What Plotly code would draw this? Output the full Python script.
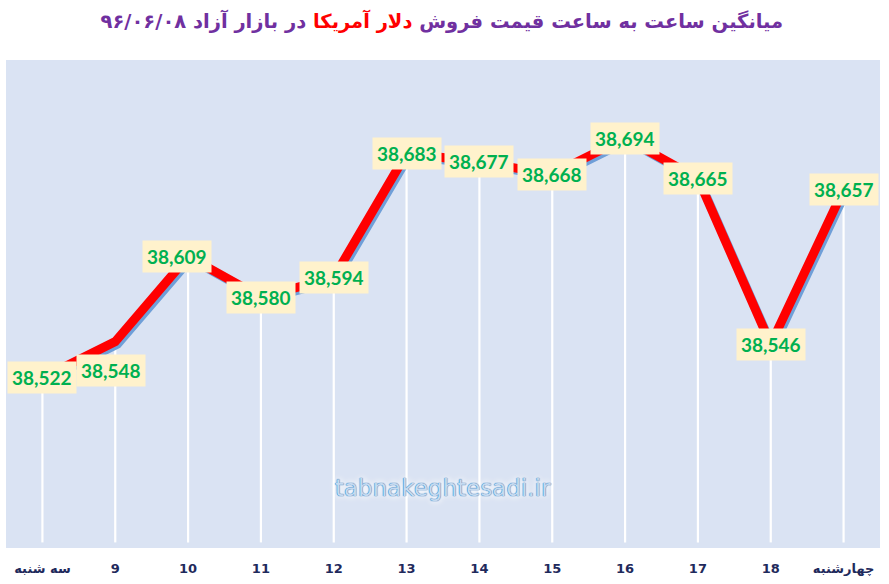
import plotly.graph_objects as go

categories = ["سه شنبه", "9", "10", "11", "12", "13", "14", "15", "16", "17", "18", "چهارشنبه"]
prices = [38522, 38548, 38609, 38580, 38594, 38683, 38677, 38668, 38694, 38665, 38546, 38657]
y_min, y_max = 38400, 38750

# label offsets (pixels) for manually placed labels
label_xshift = [0, -4, -11, 0, 0, 0, 0, 0, 0, 0, 0, 0]
label_yshift = [0, -29, 0, 0, 0, 0, 0, 0, 0, 0, 0, 0]

W, H = 889, 584
ml, mr, mt, mb = 6, 9, 60, 36
plot_w = W - ml - mr
plot_h = H - mt - mb
n = len(categories)
xi = list(range(n))

# shadow offset in pixels -> axis units
sdx = 2.5 / (plot_w / n)
sdy = 3 / (plot_h / (y_max - y_min))

fig = go.Figure()

# drop lines
dx, dy = [], []
for i, v in zip(xi, prices):
    dx += [i, i, None]
    dy += [v, y_min + 4, None]
fig.add_trace(go.Scatter(x=dx, y=dy, mode="lines", line=dict(color="white", width=2.2),
                         hoverinfo="skip", showlegend=False))

# shadow line (shifted axes)
fig.add_trace(go.Scatter(x=xi, y=prices, mode="lines", line=dict(color="#6F9FD8", width=8),
                         xaxis="x2", yaxis="y2", hoverinfo="skip", showlegend=False))
# main line
fig.add_trace(go.Scatter(x=xi, y=prices, mode="lines", line=dict(color="#FF0000", width=9),
                         xaxis="x3", yaxis="y3", showlegend=False))

for i, v in enumerate(prices):
    fig.add_annotation(x=i, y=v, text=f"<b>{v:,}</b>", showarrow=False,
                       xshift=label_xshift[i], yshift=label_yshift[i],
                       bgcolor="#FFF2CC", borderpad=4,
                       font=dict(family="Lato", size=19, color="#00B050"))

fig.add_annotation(xref="paper", yref="paper", x=0.5, y=(548 - 488) / plot_h, yanchor="middle",
                   text="tabnakeghtesadi.ir", showarrow=False,
                   font=dict(family="Verdana, DejaVu Sans", size=23, color="#C5DAF0",
                             shadow="0 0 1px #2E75B6, 0 0 1px #2E75B6, 0 0 6px white, 0 0 8px white"))

fig.update_layout(
    width=W, height=H,
    margin=dict(l=ml, r=mr, t=mt, b=mb),
    paper_bgcolor="white",
    plot_bgcolor="#DAE3F3",
    title=dict(
        text="<b>میانگین ساعت به ساعت قیمت فروش <span style='color:#FF0000'>دلار آمریکا</span> در بازار آزاد ۹۶/۰۶/۰۸</b>",
        x=0.497, xanchor="center", y=0.963, yanchor="middle",
        font=dict(family="DejaVu Sans", size=19.5, color="#7030A0")),
    xaxis=dict(range=[-0.5, n - 0.5], tickmode="array", tickvals=xi, ticktext=[f"<b>{c}</b>" for c in categories],
               showgrid=False, zeroline=False, showline=False, ticks="", ticklabelstandoff=11,
               tickfont=dict(family="DejaVu Sans", size=13, color="#1F2A5C")),
    yaxis=dict(range=[y_min, y_max], visible=False, showgrid=False, zeroline=False),
    xaxis2=dict(range=[-0.5 - sdx, n - 0.5 - sdx], overlaying="x", visible=False),
    yaxis2=dict(range=[y_min + sdy, y_max + sdy], overlaying="y", visible=False),
    xaxis3=dict(range=[-0.5, n - 0.5], overlaying="x", visible=False),
    yaxis3=dict(range=[y_min, y_max], overlaying="y", visible=False),
    showlegend=False,
)

fig.write_html("out.html", config={"displayModeBar": False},
               post_script="document.body.style.margin='0';")
